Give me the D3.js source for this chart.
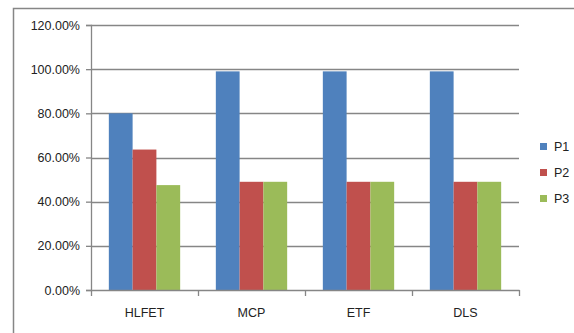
<!DOCTYPE html>
<html>
<head>
<meta charset="utf-8">
<script src="https://cdn.jsdelivr.net/npm/d3@7/dist/d3.min.js"></script>
<style>
  html, body { margin: 0; padding: 0; background: #fff; }
  svg { display: block; }
  text { font-family: "Liberation Sans", Arial, sans-serif; fill: #222; }
</style>
</head>
<body>
<svg id="chart" width="574" height="333"></svg>
<script>
// Scheduling algorithms compared and per-processor results
const categories = ["HLFET", "MCP", "ETF", "DLS"];
const seriesNames = ["P1", "P2", "P3"];
const p1 = [0.80, 0.99, 0.99, 0.99];
const p2 = [0.636, 0.49, 0.49, 0.49];
const p3 = [0.475, 0.49, 0.49, 0.49];
const yTicks = [0, 0.2, 0.4, 0.6, 0.8, 1.0, 1.2];
const colors = ["#4F81BD", "#C0504D", "#9BBB59"];

const seriesValues = [p1, p2, p3];
const rows = categories.map((c, i) => ({
  cat: c,
  vals: seriesNames.map((s, j) => ({ key: s, value: seriesValues[j][i] }))
}));

const svg = d3.select("#chart");
const gridColor = "#868686";

// outer chart frame
svg.append("rect")
  .attr("x", 13.5).attr("y", 8.5)
  .attr("width", 574).attr("height", 340)
  .attr("fill", "none").attr("stroke", gridColor).attr("stroke-width", 1.5);

const plot = { left: 91, right: 519, top: 25, bottom: 290 };

const y = d3.scaleLinear().domain([0, 1.2]).range([plot.bottom, plot.top]);
const x0 = d3.scaleBand().domain(categories).range([plot.left, plot.right]).padding(0);
const groupWidth = x0.bandwidth() * 3 / 4.5;
const x1 = d3.scaleBand().domain(seriesNames)
  .range([(x0.bandwidth() - groupWidth) / 2, (x0.bandwidth() + groupWidth) / 2]).padding(0);
const color = d3.scaleOrdinal().domain(seriesNames).range(colors);

// horizontal gridlines
svg.append("g").selectAll("line")
  .data(yTicks.filter(t => t > 0))
  .join("line")
  .attr("x1", plot.left).attr("x2", plot.right)
  .attr("y1", d => Math.round(y(d)) + 0.5).attr("y2", d => Math.round(y(d)) + 0.5)
  .attr("stroke", gridColor).attr("stroke-width", 1.3);

// bars
svg.append("g").selectAll("g")
  .data(rows)
  .join("g")
  .attr("transform", d => `translate(${x0(d.cat)},0)`)
  .selectAll("rect")
  .data(d => d.vals)
  .join("rect")
  .attr("x", d => x1(d.key))
  .attr("width", x1.bandwidth())
  .attr("y", d => y(d.value))
  .attr("height", d => y(0) - y(d.value))
  .attr("fill", d => color(d.key));

// y axis
const yAxis = d3.axisLeft(y).tickValues(yTicks)
  .tickFormat(d => (d * 100).toFixed(2) + "%")
  .tickSize(5).tickPadding(6);
const gy = svg.append("g").attr("transform", `translate(${plot.left},0)`).call(yAxis);
gy.select(".domain").attr("stroke", gridColor).attr("stroke-width", 1.3);
gy.selectAll(".tick line").attr("stroke", gridColor).attr("stroke-width", 1.3);
gy.selectAll(".tick text").attr("font-size", 12.5).attr("fill", "#222")
  .attr("font-family", "'Liberation Sans', Arial, sans-serif");

// x axis: ticks on category boundaries
const xAxis = d3.axisBottom(x0).tickSize(0).tickPadding(18);
const gx = svg.append("g").attr("transform", `translate(0,${plot.bottom})`).call(xAxis);
gx.select(".domain").attr("stroke", gridColor).attr("stroke-width", 1.3);
gx.selectAll(".tick text").attr("font-size", 12.5).attr("fill", "#222")
  .attr("font-family", "'Liberation Sans', Arial, sans-serif");
const bounds = categories.map(c => x0(c)).concat([plot.right]);
svg.append("g").selectAll("line")
  .data(bounds)
  .join("line")
  .attr("x1", d => Math.round(d) + 0.5).attr("x2", d => Math.round(d) + 0.5)
  .attr("y1", plot.bottom).attr("y2", plot.bottom + 6)
  .attr("stroke", gridColor).attr("stroke-width", 1.3);

// legend
const legend = svg.append("g").selectAll("g")
  .data(seriesNames)
  .join("g")
  .attr("transform", (d, i) => `translate(540,${143 + i * 26})`);
legend.append("rect").attr("width", 7).attr("height", 7).attr("fill", d => color(d));
legend.append("text").attr("x", 14).attr("y", 8).attr("font-size", 12.5).text(d => d);
</script>
</body>
</html>
